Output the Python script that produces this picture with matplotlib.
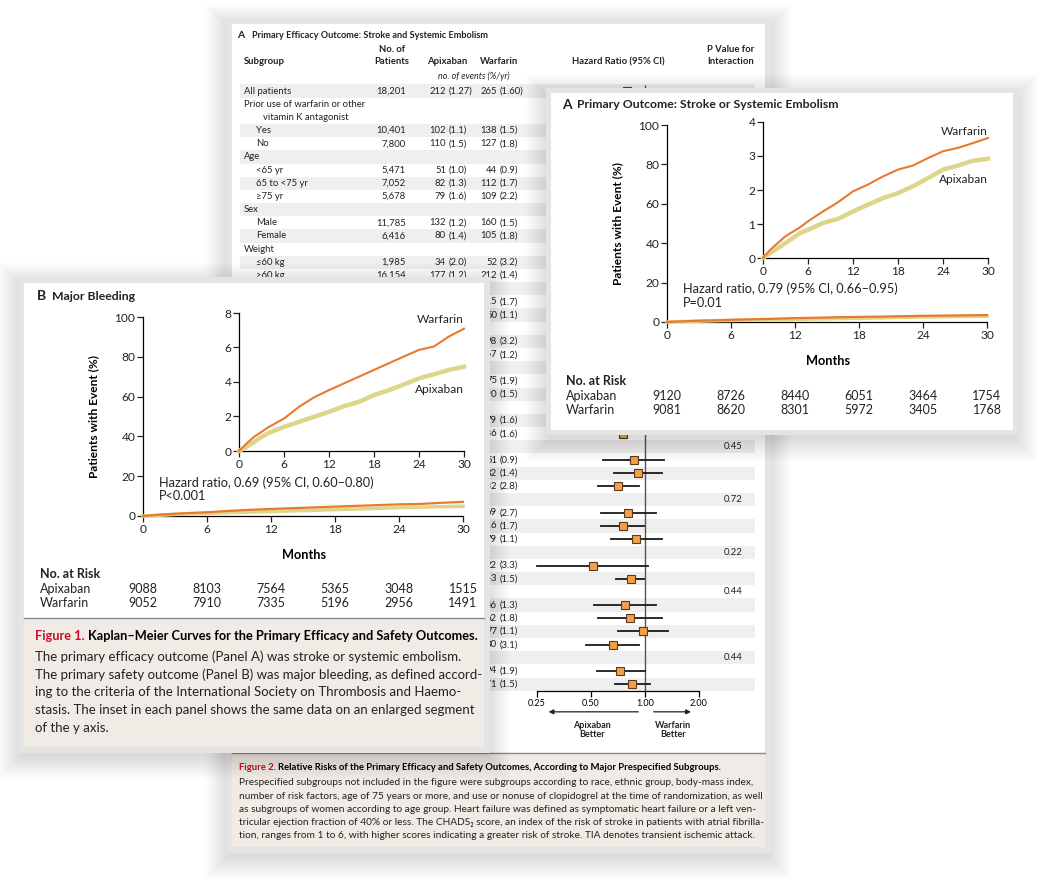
import numpy as np
import matplotlib.pyplot as plt
from matplotlib.patches import Rectangle
from matplotlib.ticker import NullLocator
from matplotlib.transforms import blended_transform_factory as blend

W, H = 1051, 888
plt.rcParams['font.family'] = ['Lato', 'DejaVu Sans']
plt.rcParams['text.color'] = '#222222'

ORANGE = '#e87a2e'
KHAKI = '#ddd58a'
RED = '#c8102e'
BEIGE = '#f0ebe5'
TXT = '#222222'

# ---------------- data ----------------
# Kaplan-Meier, panel A (stroke or systemic embolism), cumulative %
months_A = [0, 1, 3, 5, 6, 8, 10, 12, 14, 16, 18, 20, 22, 24, 26, 28, 30]
warf_A = [0, 0.25, 0.64, 0.91, 1.08, 1.37, 1.64, 1.96, 2.16, 2.40, 2.60, 2.72, 2.94, 3.14, 3.24, 3.38, 3.53]
apix_A = [0, 0.15, 0.44, 0.74, 0.83, 1.03, 1.15, 1.37, 1.57, 1.76, 1.91, 2.11, 2.35, 2.60, 2.72, 2.86, 2.92]

# panel B (major bleeding)
months_B = [0, 1, 2, 3, 4, 6, 8, 10, 12, 14, 16, 18, 20, 22, 24, 26, 28, 30]
warf_B = [0, 0.43, 0.82, 1.11, 1.40, 1.88, 2.56, 3.11, 3.53, 3.92, 4.31, 4.70, 5.09, 5.48, 5.86, 6.06, 6.64, 7.09]
apix_B = [0, 0.23, 0.52, 0.82, 1.05, 1.40, 1.69, 1.98, 2.27, 2.60, 2.85, 3.24, 3.53, 3.86, 4.21, 4.45, 4.70, 4.89]

risk_months = [0, 6, 12, 18, 24, 30]
riskA_apix = [9120, 8726, 8440, 6051, 3464, 1754]
riskA_warf = [9081, 8620, 8301, 5972, 3405, 1768]
riskB_apix = [9088, 8103, 7564, 5365, 3048, 1515]
riskB_warf = [9052, 7910, 7335, 5196, 2956, 1491]

# subgroup table (Figure 2A)
sub_labels = ['All patients', 'Prior use of warfarin or other', 'vitamin K antagonist', 'Yes', 'No',
              'Age', '<65 yr', '65 to <75 yr', '\u226575 yr', 'Sex', 'Male', 'Female',
              'Weight', '\u226460 kg', '>60 kg', 'Type of atrial fibrillation', 'Permanent or persistent',
              'Paroxysmal', 'Prior stroke or TIA', 'Yes', 'No', 'Diabetes mellitus', 'Yes', 'No',
              'Heart failure', 'Yes', 'No', 'CHADS\u2082 score', '\u22641', '2', '\u22653',
              'Renal impairment', 'Moderate or severe', 'Mild', 'None', 'Dose of study drug',
              '2.5 mg', '5 mg', 'Region', 'North America', 'Latin America', 'Europe', 'Asia Pacific',
              'Aspirin at randomization', 'Yes', 'No']
indent = [0, 0, 2, 1, 1, 0, 1, 1, 1, 0, 1, 1, 0, 1, 1, 0, 1, 1, 0, 1, 1, 0, 1, 1, 0, 1, 1,
          0, 1, 1, 1, 0, 1, 1, 1, 0, 1, 1, 0, 1, 1, 1, 1, 0, 1, 1]
n_pat = ['18,201', '', '', '10,401', '7,800', '', '5,471', '7,052', '5,678', '', '11,785', '6,416',
         '', '1,985', '16,154', '', '15,412', '2,786', '', '3,436', '14,765', '', '4,547', '13,654',
         '', '6,451', '11,750', '', '6,183', '6,516', '5,502', '', '2,979', '7,587', '7,518', '',
         '831', '17,370', '', '4,474', '3,468', '7,343', '2,916', '', '5,632', '12,569']
apix_n = ['212', '', '', '102', '110', '', '51', '82', '79', '', '132', '80', '', '34', '177', '',
          '180', '32', '', '73', '139', '', '57', '155', '', '70', '142', '', '44', '74', '94', '',
          '54', '87', '70', '', '12', '200', '', '42', '48', '70', '52', '', '70', '142']
apix_r = ['(1.27)', '', '', '(1.1)', '(1.5)', '', '(1.0)', '(1.3)', '(1.6)', '', '(1.2)', '(1.4)',
          '', '(2.0)', '(1.2)', '', '(1.3)', '(0.9)', '', '(2.5)', '(1.0)', '', '(1.5)', '(1.2)',
          '', '(1.4)', '(1.2)', '', '(0.7)', '(1.2)', '(2.0)', '', '(2.1)', '(1.2)', '(1.0)', '',
          '(1.7)', '(1.3)', '', '(1.1)', '(1.5)', '(1.0)', '(2.0)', '', '(1.4)', '(1.2)']
warf_n = ['265', '', '', '138', '127', '', '44', '112', '109', '', '160', '105', '', '52', '212', '',
          '215', '50', '', '98', '167', '', '75', '190', '', '79', '186', '', '51', '82', '132', '',
          '69', '116', '79', '', '22', '243', '', '46', '62', '77', '80', '', '94', '171']
warf_r = ['(1.60)', '', '', '(1.5)', '(1.8)', '', '(0.9)', '(1.7)', '(2.2)', '', '(1.5)', '(1.8)',
          '', '(3.2)', '(1.4)', '', '(1.7)', '(1.1)', '', '(3.2)', '(1.2)', '', '(1.9)', '(1.5)',
          '', '(1.6)', '(1.6)', '', '(0.9)', '(1.4)', '(2.8)', '', '(2.7)', '(1.7)', '(1.1)', '',
          '(3.3)', '(1.5)', '', '(1.3)', '(1.8)', '(1.1)', '(3.1)', '', '(1.9)', '(1.5)']
hr = [0.79, None, None, 0.73, 0.86, None, 1.16, 0.72, 0.71, None, 0.80, 0.76, None, 0.63, 0.82, None,
      0.83, 0.64, None, 0.76, 0.82, None, 0.75, 0.81, None, 0.88, 0.75, None,
      0.865, 0.91, 0.71, None, 0.80, 0.75, 0.89, None, 0.51, 0.84, None,
      0.77, 0.82, 0.97, 0.66, None, 0.73, 0.85]
hr_lo = [0.66, None, None, 0.57, 0.67, None, 0.77, 0.54, 0.53, None, 0.64, 0.57, None, 0.41, 0.67, None,
         0.68, 0.41, None, 0.56, 0.65, None, 0.53, 0.66, None, 0.64, 0.60, None,
         0.585, 0.67, 0.55, None, 0.57, 0.57, 0.65, None, 0.25, 0.69, None,
         0.52, 0.55, 0.71, 0.47, None, 0.54, 0.68]
hr_hi = [0.95, None, None, 0.95, 1.11, None, 1.73, 0.96, 0.95, None, 1.00, 1.02, None, 0.97, 1.00, None,
         1.01, 0.99, None, 1.03, 1.03, None, 1.05, 1.00, None, 1.21, 0.94, None,
         1.28, 1.25, 0.93, None, 1.15, 0.99, 1.24, None, 1.04, 0.99, None,
         1.15, 1.24, 1.34, 0.93, None, 1.00, 1.06]
p_int = {1: '0.39', 5: '0.12', 9: '0.81', 12: '0.26', 15: '0.76', 18: '0.71', 21: '0.71',
         24: '0.50', 27: '0.45', 31: '0.72', 35: '0.22', 38: '0.44', 43: '0.44'}
shaded = [0, 3, 5, 7, 9, 11, 13, 15, 17, 19, 21, 23, 25, 27, 29, 31, 33, 35, 37, 39, 41, 43, 45]

# rows of the back table that the front cards cover completely
first_row_under_B = 15   # left columns hidden from here on by Figure 1 card
last_row_under_A = 26    # P-value column hidden up to here by the inset card

fig = plt.figure(figsize=(W / 100, H / 100), dpi=100)


def px_axes(l, t, r, b, z):
    ax = fig.add_axes([l / W, 1 - b / H, (r - l) / W, (b - t) / H])
    ax.set_zorder(z)
    ax.set_facecolor('none')
    return ax


def overlay(z):
    ax = fig.add_axes([0, 0, 1, 1])
    ax.set_xlim(0, W)
    ax.set_ylim(H, 0)
    ax.axis('off')
    ax.set_zorder(z)
    return ax


def card(ax, l, t, r, b, frame, cap_top=None):
    # soft drop shadow
    for k in range(12):
        g = 1 + k * 2.0
        ax.add_patch(Rectangle((l - g + 3, t - g + 9), r - l + 2 * g - 6, b - t + 2 * g - 6,
                               fc='black', alpha=0.012, lw=0))
    ax.add_patch(Rectangle((l, t), r - l, b - t, fc='#e4e4e4', lw=0))
    ax.add_patch(Rectangle((l + frame, t + frame), r - l - 2 * frame, b - t - 2 * frame, fc='white', lw=0))
    if cap_top:
        ax.add_patch(Rectangle((l + frame, cap_top), r - l - 2 * frame, b - frame - cap_top, fc=BEIGE, lw=0))
        ax.plot([l + frame, r - frame], [cap_top, cap_top], color='#8a8a8a', lw=1)


def caption(ax, x, y, fig_lbl, title, lines, dy, size, tsize):
    t1 = ax.text(x, y, fig_lbl + ' ', color=RED, fontsize=tsize, fontweight='bold', va='center')
    ax.annotate(title, xy=(1, 0), xycoords=t1, ha='left', va='bottom', fontsize=tsize,
                fontweight='bold', color='black')
    for i, s in enumerate(lines):
        ax.text(x, y + dy * (i + 1.2), s, fontsize=size, va='center', color=TXT)


# ================= back card: Figure 2 =================
back = overlay(0)
card(back, 226, 18, 771, 853, 6, cap_top=753)

fax = px_axes(537, 80, 699, 691, 1)
fax.set_xscale('log', base=2)
fax.set_xlim(0.25, 2.0)
fax.set_ylim(45.52, -0.835)
for s in ['top', 'right', 'left']:
    fax.spines[s].set_visible(False)
fax.spines['bottom'].set_linewidth(0.9)
fax.set_yticks([])
fax.set_xticks([0.25, 0.5, 1, 2])
fax.set_xticklabels(['0.25', '0.50', '1.00', '2.00'])
fax.xaxis.set_minor_locator(NullLocator())
fax.tick_params(axis='x', direction='out', length=4, width=0.9, labelsize=6.5, pad=2)
fax.vlines(1, -0.45, 45.52, color='#555555', lw=1, zorder=1)

FS = 6.8
rows = np.arange(len(sub_labels))
tr = blend(back.transData, fax.transData)
for i in shaded:
    back.add_patch(Rectangle((240, i - 0.5), 515, 1.0, fc='#efefef', lw=0, transform=tr))
for i in rows:
    if i < first_row_under_B:
        back.text([244, 256, 263][indent[i]], i, sub_labels[i], fontsize=FS, va='center', transform=tr)
        back.text(406, i, n_pat[i], fontsize=FS, va='center', ha='right', transform=tr)
        back.text(446, i, apix_n[i], fontsize=FS, va='center', ha='right', transform=tr)
        back.text(449, i, apix_r[i], fontsize=FS, va='center', ha='left', transform=tr)
    back.text(497, i, warf_n[i], fontsize=FS, va='center', ha='right', transform=tr)
    back.text(500, i, warf_r[i], fontsize=FS, va='center', ha='left', transform=tr)
    if hr[i] is not None:
        fax.plot([hr_lo[i], hr_hi[i]], [i, i], color='#1a1a1a', lw=1.3, zorder=2, clip_on=False)
        fax.plot(hr[i], i, 's', ms=5.2, mfc='#f4a04a', mec='#5a3a1a', mew=0.8, zorder=3, clip_on=False)
for i, p in p_int.items():
    if i > last_row_under_A:
        back.text(733, i, p, fontsize=FS, va='center', ha='center', transform=tr)

back.text(237, 35, 'A', fontsize=7.5, fontweight='bold', va='center')
back.text(252, 35, 'Primary Efficacy Outcome: Stroke and Systemic Embolism', fontsize=6.6,
          fontweight='bold', va='center')
back.text(244, 62, 'Subgroup', fontsize=FS, fontweight='bold', va='center')
back.text(392, 50, 'No. of', fontsize=FS, fontweight='bold', va='center', ha='center')
back.text(392, 62, 'Patients', fontsize=FS, fontweight='bold', va='center', ha='center')
back.text(447, 62, 'Apixaban', fontsize=FS, fontweight='bold', va='center', ha='center')
back.text(499, 62, 'Warfarin', fontsize=FS, fontweight='bold', va='center', ha='center')
back.text(474, 76, 'no. of events (%/yr)', fontsize=6.4, style='italic', va='center', ha='center')
back.text(618, 62, 'Hazard Ratio (95% CI)', fontsize=FS, fontweight='bold', va='center', ha='center')
back.text(731, 50, 'P Value for', fontsize=FS, fontweight='bold', va='center', ha='center')
back.text(731, 62, 'Interaction', fontsize=FS, fontweight='bold', va='center', ha='center')

fax.annotate('', xy=(0.28, 47.1), xytext=(0.95, 47.1), annotation_clip=False,
             arrowprops=dict(arrowstyle='-|>', color='#222222', lw=0.9, mutation_scale=7))
fax.annotate('', xy=(1.87, 47.1), xytext=(1.08, 47.1), annotation_clip=False,
             arrowprops=dict(arrowstyle='-|>', color='#222222', lw=0.9, mutation_scale=7))
fax.text(0.506, 48.5, 'Apixaban\nBetter', fontsize=6.5, fontweight='bold', ha='center', va='center',
         linespacing=1.05)
fax.text(1.43, 48.5, 'Warfarin\nBetter', fontsize=6.5, fontweight='bold', ha='center', va='center',
         linespacing=1.05)

caption(back, 239, 767, 'Figure 2.',
        'Relative Risks of the Primary Efficacy and Safety Outcomes, According to Major Prespecified Subgroups.',
        ['Prespecified subgroups not included in the figure were subgroups according to race, ethnic group, body-mass index,',
         'number of risk factors, age of 75 years or more, and use or nonuse of clopidogrel at the time of randomization, as well',
         'as subgroups of women according to age group. Heart failure was defined as symptomatic heart failure or a left ven-',
         'tricular ejection fraction of 40% or less. The CHADS\u2082 score, an index of the risk of stroke in patients with atrial fibrilla-',
         'tion, ranges from 1 to 6, with higher scores indicating a greater risk of stroke. TIA denotes transient ischemic attack.'],
        13.2, 7.25, 6.8)


# ================= KM panels =================
def km_panel(ov, main_box, inset_box, z, months, warf, apix, ymax_in, yticks_in,
             letter_xy, title, hr_text, p_text, risk_x, risk_ys, r_apix, r_warf, lbl_y):
    ax = px_axes(*main_box, z)
    ins = px_axes(*inset_box, z + 1)
    for a in (ax, ins):
        for s in ['top', 'right']:
            a.spines[s].set_visible(False)
        for s in ['left', 'bottom']:
            a.spines[s].set_linewidth(0.9)
        a.set_xlim(0, 30)
        a.set_xticks([0, 6, 12, 18, 24, 30])
        a.tick_params(direction='out', length=4, width=0.9, labelsize=8.6, pad=1.5, colors=TXT)
    ax.set_ylim(0, 100)
    ax.set_yticks([0, 20, 40, 60, 80, 100])
    ins.set_ylim(0, ymax_in)
    ins.set_yticks(yticks_in)

    ax.plot(months, apix, color=KHAKI, lw=2.6, clip_on=False, zorder=3)
    ax.plot(months, warf, color=ORANGE, lw=1.6, clip_on=False, zorder=4)
    ins.plot(months, apix, color=KHAKI, lw=3.2, clip_on=False, zorder=3)
    ins.plot(months, warf, color=ORANGE, lw=1.5, clip_on=False, zorder=4)

    ins.text(30, lbl_y[0], 'Warfarin', fontsize=8.6, ha='right', va='center')
    ins.text(30, lbl_y[1], 'Apixaban', fontsize=8.6, ha='right', va='center')
    ax.text(1.5, 16.8, hr_text, fontsize=9.2, va='center')
    ax.text(1.5, 9.8, p_text, fontsize=9.2, va='center')

    ax.set_ylabel('Patients with Event (%)', fontsize=8.6, fontweight='bold')
    ax.yaxis.set_label_coords(-0.136, 0.5)
    ax.set_xlabel('Months', fontsize=9.2, fontweight='bold')
    ax.xaxis.set_label_coords(0.503, -0.165)

    lx, ly = letter_xy
    ov.text(lx, ly, title[0], fontsize=10, fontweight='bold', va='center')
    ov.text(lx + 15, ly, title[1], fontsize=8.8, fontweight='bold', va='center')

    ov.text(risk_x, risk_ys[0], 'No. at Risk', fontsize=9, fontweight='bold', va='center')
    ov.text(risk_x, risk_ys[1], 'Apixaban', fontsize=9, va='center')
    ov.text(risk_x, risk_ys[2], 'Warfarin', fontsize=9, va='center')
    trr = blend(ax.transData, ov.transData)
    for m, a_, w_ in zip(risk_months, r_apix, r_warf):
        ov.text(m, risk_ys[1], str(a_), fontsize=9, ha='center', va='center', transform=trr)
        ov.text(m, risk_ys[2], str(w_), fontsize=9, ha='center', va='center', transform=trr)


# ----- card B: Figure 1 (Major bleeding) -----
ovB = overlay(2)
card(ovB, 18, 277, 490, 753, 6, cap_top=618)
km_panel(ovB, (143, 317, 463, 516), (239, 313, 464, 451), 3, months_B, warf_B, apix_B,
         8, [0, 2, 4, 6, 8], (37, 296), ('B', 'Major Bleeding'),
         'Hazard ratio, 0.69 (95% CI, 0.60\u20130.80)', 'P<0.001',
         40, (574, 589, 603), riskB_apix, riskB_warf, (7.65, 3.59))
caption(ovB, 35, 636, 'Figure 1.',
        'Kaplan\u2013Meier Curves for the Primary Efficacy and Safety Outcomes.',
        ['The primary efficacy outcome (Panel A) was stroke or systemic embolism.',
         'The primary safety outcome (Panel B) was major bleeding, as defined accord-',
         'ing to the criteria of the International Society on Thrombosis and Haemo-',
         'stasis. The inset in each panel shows the same data on an enlarged segment',
         'of the y axis.'],
        17.6, 9.5, 9.2)

# ----- card A: primary outcome inset card -----
ovA = overlay(5)
card(ovA, 546, 88, 1018, 435, 5)
km_panel(ovA, (667, 125, 987, 322), (763, 122, 988, 258), 6, months_A, warf_A, apix_A,
         4, [0, 1, 2, 3, 4], (562, 105), ('A', 'Primary Outcome: Stroke or Systemic Embolism'),
         'Hazard ratio, 0.79 (95% CI, 0.66\u20130.95)', 'P=0.01',
         566, (381, 396, 410), riskA_apix, riskA_warf, (3.71, 2.32))

fig.savefig('out.png', dpi=100)
